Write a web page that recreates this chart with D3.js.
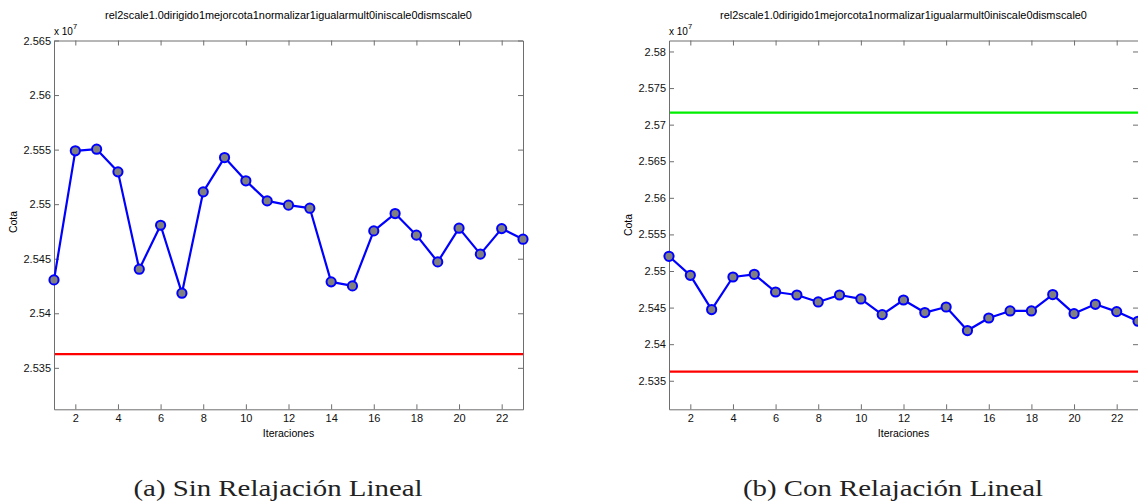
<!DOCTYPE html>
<html>
<head>
<meta charset="utf-8">
<script src="https://cdn.jsdelivr.net/npm/d3@7"></script>
<style>
  body { margin: 0; background: #fff; }
  svg { display: block; }
</style>
</head>
<body>
<svg id="chart" width="1138" height="504"></svg>
<script>
const svg = d3.select("#chart");

const titleText = "rel2scale1.0dirigido1mejorcota1normalizar1igualarmult0iniscale0dismscale0";

// iterations (x) shared by both panels
const iterations = [1, 2, 3, 4, 5, 6, 7, 8, 9, 10, 11, 12, 13, 14, 15, 16, 17, 18, 19, 20, 21, 22, 23];
const xTicks = [2, 4, 6, 8, 10, 12, 14, 16, 18, 20, 22];

// values in units of 1e7
const cotaSinRelajacion = [2.54306, 2.55489, 2.55504, 2.55296, 2.54404, 2.54807, 2.54184, 2.55113,
  2.55427, 2.55214, 2.55030, 2.54991, 2.54963, 2.54288, 2.54251, 2.54755, 2.54914, 2.54716,
  2.54471, 2.54780, 2.54542, 2.54776, 2.54679];
const cotaConRelajacion = [2.55201, 2.54941, 2.54473, 2.54918, 2.54955, 2.54713, 2.54672, 2.54577,
  2.54672, 2.54618, 2.54404, 2.54604, 2.54432, 2.54508, 2.54186, 2.54358, 2.54454, 2.54454,
  2.54678, 2.54418, 2.54545, 2.54445, 2.54313];

const redLevel = 2.53625;   // lower bound (both panels)
const greenLevel = 2.57164; // upper reference (panel b)

const yTicksA = [2.535, 2.54, 2.545, 2.55, 2.555, 2.56, 2.565];
const yTicksB = [2.535, 2.54, 2.545, 2.55, 2.555, 2.56, 2.565, 2.57, 2.575, 2.58];
const yDomainA = [2.5312, 2.565];
const yDomainB = [2.5311, 2.5815];

const panels = [
  { x0: 54, x1: 523, values: cotaSinRelajacion, yDomain: yDomainA, yTicks: yTicksA,
    hLines: [{ v: redLevel, c: "#ff0000" }], caption: "(a) Sin Relajación Lineal", capX: 278, capW: 289, ylabX: 17, ylabY: 222 },
  { x0: 669, x1: 1138, values: cotaConRelajacion, yDomain: yDomainB, yTicks: yTicksB,
    hLines: [{ v: greenLevel, c: "#00ee00" }, { v: redLevel, c: "#ff0000" }], caption: "(b) Con Relajación Lineal", capX: 893, capW: 300, ylabX: 632, ylabY: 225 }
];

const plotTop = 40.5, plotBottom = 409.3;
const axisColor = "#6e6e6e";
const sans = "'Liberation Sans', Arial, sans-serif";
const serif = "'Liberation Serif', 'Times New Roman', serif";

panels.forEach(p => {
  const x = d3.scaleLinear().domain([1, 23]).range([p.x0, p.x1]);
  const y = d3.scaleLinear().domain(p.yDomain).range([plotBottom, plotTop]);
  const g = svg.append("g").style("font-family", sans);

  // horizontal reference lines
  p.hLines.forEach(h => {
    g.append("line")
      .attr("x1", x(1)).attr("x2", x(23))
      .attr("y1", y(h.v)).attr("y2", y(h.v))
      .attr("stroke", h.c).attr("stroke-width", 2.2);
  });

  // axes (ticks inside, mirrored on top/right)
  const fmt = d => String(d);
  const styleAxis = sel => {
    sel.attr("font-family", null).attr("font-size", null);
    sel.selectAll("path, line").attr("stroke", axisColor).attr("stroke-width", 1);
    sel.selectAll("text").style("font-family", sans).style("font-size", "11px").attr("fill", "#111");
  };
  g.append("g").attr("transform", `translate(0,${plotBottom})`)
    .call(d3.axisBottom(x).tickValues(xTicks).tickFormat(fmt).tickSizeInner(-5).tickSizeOuter(0).tickPadding(4.5))
    .call(styleAxis);
  g.append("g").attr("transform", `translate(0,${plotTop})`)
    .call(d3.axisTop(x).tickValues(xTicks).tickFormat("").tickSizeInner(-5).tickSizeOuter(0))
    .call(styleAxis);
  g.append("g").attr("transform", `translate(${p.x0},0)`)
    .call(d3.axisLeft(y).tickValues(p.yTicks).tickFormat(fmt).tickSizeInner(-5).tickSizeOuter(0).tickPadding(3))
    .call(styleAxis);
  g.append("g").attr("transform", `translate(${p.x1},0)`)
    .call(d3.axisRight(y).tickValues(p.yTicks).tickFormat("").tickSizeInner(-5).tickSizeOuter(0))
    .call(styleAxis);

  // data line + markers
  const line = d3.line().x((d, i) => x(iterations[i])).y(d => y(d));
  g.append("path").datum(p.values)
    .attr("d", line).attr("fill", "none")
    .attr("stroke", "#0000ff").attr("stroke-width", 2.2).attr("stroke-linejoin", "round");
  g.selectAll("circle").data(p.values).join("circle")
    .attr("cx", (d, i) => x(iterations[i])).attr("cy", d => y(d))
    .attr("r", 4.6).attr("fill", "#808080")
    .attr("stroke", "#0000ff").attr("stroke-width", 2);

  // title
  g.append("text").attr("x", (p.x0 + p.x1) / 2).attr("y", 18.5)
    .attr("text-anchor", "middle").style("font-size", "10.9px").text(titleText);

  // exponent label
  const ex = g.append("text").attr("x", p.x0).attr("y", 35).style("font-size", "10px");
  ex.append("tspan").text("x 10");
  ex.append("tspan").attr("dy", -6).style("font-size", "7.5px").text("7");

  // axis labels
  g.append("text").attr("x", (p.x0 + p.x1) / 2).attr("y", 436.5)
    .attr("text-anchor", "middle").style("font-size", "10.5px").text("Iteraciones");
  g.append("text").attr("transform", `translate(${p.ylabX},${p.ylabY}) rotate(-90)`)
    .attr("text-anchor", "middle").style("font-size", "10.5px").text("Cota");

  // subcaption
  g.append("text")
    .attr("x", p.capX).attr("y", 496).attr("text-anchor", "middle")
    .style("font-family", serif).style("font-size", "24px")
    .attr("textLength", p.capW).attr("lengthAdjust", "spacingAndGlyphs")
    .attr("fill", "#222").text(p.caption);
});
</script>
</body>
</html>
